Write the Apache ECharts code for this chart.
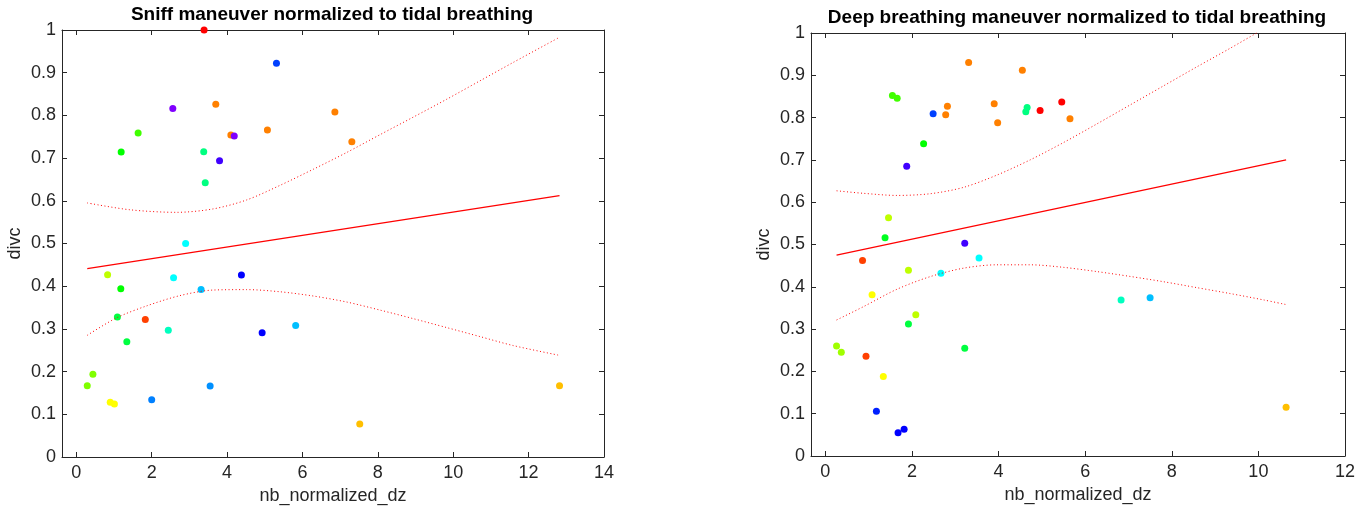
<!DOCTYPE html>
<html>
<head>
<meta charset="utf-8">
<script src="https://cdn.jsdelivr.net/npm/echarts@6/dist/echarts.min.js"></script>
<style>
  html, body { margin: 0; padding: 0; background: #ffffff; }
  #chart { width: 1366px; height: 510px; }
</style>
</head>
<body>
<div id="chart"></div>
<script>
// ---- Sniff maneuver (left panel) ----
const sniffX = [3.39, 5.31, 2.56, 3.70, 6.86, 1.64, 4.10, 4.19, 5.07, 7.31, 1.19, 3.38, 3.80, 3.42, 2.90,
                0.83, 1.18, 2.58, 3.31, 4.38, 1.09, 1.83, 2.44, 4.93, 5.82, 1.34, 0.44, 0.29, 3.55, 2.00,
                0.90, 1.01, 7.52, 12.82];
const sniffY = [1.000, 0.922, 0.816, 0.826, 0.808, 0.759, 0.754, 0.752, 0.766, 0.738, 0.714, 0.715, 0.694, 0.642, 0.500,
                0.427, 0.394, 0.420, 0.392, 0.426, 0.328, 0.322, 0.297, 0.291, 0.308, 0.270, 0.194, 0.167, 0.166, 0.134,
                0.128, 0.124, 0.077, 0.167];
const sniffColors = ['#ff0000', '#0040ff', '#8000ff', '#ff8000', '#ff8000', '#40ff00', '#ff8000', '#8000ff', '#ff8000', '#ff8000',
                     '#00ff00', '#00ff80', '#4000ff', '#00ff80', '#00ffff', '#bfff00', '#00ff00', '#00ffff', '#00bfff', '#0000ff',
                     '#00ff40', '#ff4000', '#00ffbf', '#0000ff', '#00bfff', '#00ff40', '#80ff00', '#80ff00', '#0090ff', '#0080ff',
                     '#ffff00', '#ffff00', '#ffbf00', '#ffbf00'];
const sniffFitX = [0.29, 12.82];
const sniffFitY = [0.441, 0.612];
const sniffUpperX = [0.29, 1.42, 2.66, 3.63, 4.52, 5.40, 6.29, 7.17, 8.06, 8.94, 9.83, 10.71, 11.59, 12.82];
const sniffUpperY = [0.595, 0.579, 0.573, 0.581, 0.602, 0.636, 0.674, 0.713, 0.755, 0.796, 0.838, 0.881, 0.924, 0.983];
const sniffLowerX = [0.29, 1.07, 1.87, 2.75, 3.63, 4.52, 5.40, 6.29, 7.17, 8.06, 8.94, 9.83, 10.71, 11.59, 12.82];
const sniffLowerY = [0.285, 0.326, 0.354, 0.378, 0.391, 0.392, 0.387, 0.377, 0.363, 0.344, 0.324, 0.303, 0.282, 0.261, 0.238];

// ---- Deep breathing maneuver (right panel) ----
const deepX = [3.31, 4.55, 1.55, 1.66, 2.49, 2.78, 2.82, 3.90, 3.98, 4.63, 4.66, 4.96, 2.27, 1.88, 1.46,
               1.38, 3.22, 5.46, 5.65, 0.86, 1.92, 2.67, 3.55, 1.08, 2.09, 1.92, 0.26, 0.37, 0.94, 3.22,
               1.34, 1.18, 1.68, 1.82, 6.83, 7.50, 10.64];
const deepY = [0.930, 0.912, 0.852, 0.846, 0.809, 0.807, 0.827, 0.833, 0.788, 0.814, 0.824, 0.817, 0.738, 0.685, 0.563,
               0.516, 0.503, 0.837, 0.797, 0.462, 0.439, 0.432, 0.468, 0.381, 0.334, 0.312, 0.260, 0.245, 0.236, 0.2545,
               0.188, 0.106, 0.055, 0.063, 0.369, 0.374, 0.115];
const deepColors = ['#ff8000', '#ff8000', '#40ff00', '#40ff00', '#0040ff', '#ff8000', '#ff8000', '#ff8000', '#ff8000', '#00ff80',
                    '#00ff80', '#ff0000', '#00ff00', '#4000ff', '#bfff00', '#00ff20', '#4000ff', '#ff0000', '#ff8000', '#ff4000',
                    '#bfff00', '#00ffff', '#00ffff', '#ffff00', '#bfff00', '#00ff40', '#a0ff00', '#a0ff00', '#ff4000', '#00ff40',
                    '#ffff00', '#0020ff', '#0000ff', '#0000ff', '#00ffbf', '#00bfff', '#ffbf00'];
const deepFitX = [0.26, 10.64];
const deepFitY = [0.475, 0.700];
const deepUpperX = [0.26, 0.88, 1.65, 2.42, 3.19, 3.96, 4.73, 5.50, 6.27, 7.04, 7.81, 8.58, 9.35, 9.96];
const deepUpperY = [0.627, 0.621, 0.616, 0.620, 0.635, 0.664, 0.700, 0.741, 0.785, 0.830, 0.875, 0.920, 0.964, 1.000];
const deepLowerX = [0.26, 0.88, 1.65, 2.42, 3.19, 3.96, 4.73, 5.50, 6.27, 7.04, 7.81, 8.58, 9.35, 10.12, 10.64];
const deepLowerY = [0.3215, 0.353, 0.394, 0.424, 0.444, 0.452, 0.452, 0.446, 0.436, 0.4245, 0.412, 0.398, 0.384, 0.369, 0.358];

// ---- Axis ticks and text ----
const sniffXTicks = [0, 2, 4, 6, 8, 10, 12, 14];
const deepXTicks = [0, 2, 4, 6, 8, 10, 12];
const yTicks = [0, 0.1, 0.2, 0.3, 0.4, 0.5, 0.6, 0.7, 0.8, 0.9, 1];
const titles = ['Sniff maneuver normalized to tidal breathing', 'Deep breathing maneuver normalized to tidal breathing'];
const xName = 'nb_normalized_dz';
const yName = 'divc';

const FONT = 'Liberation Sans, Arial, Helvetica, sans-serif';
const AXIS_COLOR = '#262626';
const LABEL_SIZE = 18;
const pairs = (xs, ys) => xs.map((x, i) => [x, ys[i]]);

const grids = [
  { left: 62, right: 762, top: 30, bottom: 52 },
  { left: 811, right: 21, top: 33, bottom: 54 }
];
const xRanges = [[-0.38, 14], [-0.33, 12]];
const xTickSets = [sniffXTicks, deepXTicks];

function xAxes(g) {
  const base = {
    gridIndex: g, type: 'value', min: xRanges[g][0], max: xRanges[g][1],
    axisLine: { show: true, onZero: false, lineStyle: { color: AXIS_COLOR, width: 1 } },
    axisTick: { show: true, inside: true, length: 5, customValues: xTickSets[g], lineStyle: { color: AXIS_COLOR } },
    splitLine: { show: false }
  };
  return [
    Object.assign({}, base, {
      position: 'bottom',
      axisLabel: { customValues: xTickSets[g], color: AXIS_COLOR, fontSize: LABEL_SIZE, fontFamily: FONT, margin: 7 },
      name: xName, nameLocation: 'middle', nameGap: 30,
      nameTextStyle: { color: AXIS_COLOR, fontSize: LABEL_SIZE, fontFamily: FONT }
    }),
    Object.assign({}, base, { position: 'top', axisLabel: { show: false } })
  ];
}
function yAxes(g) {
  const base = {
    gridIndex: g, type: 'value', min: 0, max: 1,
    axisLine: { show: true, onZero: false, lineStyle: { color: AXIS_COLOR, width: 1 } },
    axisTick: { show: true, inside: true, length: 5, customValues: yTicks, lineStyle: { color: AXIS_COLOR } },
    splitLine: { show: false }
  };
  return [
    Object.assign({}, base, {
      position: 'left',
      axisLabel: { customValues: yTicks, color: AXIS_COLOR, fontSize: LABEL_SIZE, fontFamily: FONT, margin: 6 },
      name: yName, nameLocation: 'middle', nameGap: 38,
      nameTextStyle: { color: AXIS_COLOR, fontSize: LABEL_SIZE, fontFamily: FONT }
    }),
    Object.assign({}, base, { position: 'right', axisLabel: { show: false } })
  ];
}

function panelSeries(g, xs, ys, colors, fitX, fitY, upX, upY, loX, loY) {
  const xi = g * 2, yi = g * 2;
  const band = (bx, by) => ({
    type: 'line', xAxisIndex: xi, yAxisIndex: yi, showSymbol: false, silent: true, z: 3, smooth: 0.3,
    data: pairs(bx, by), lineStyle: { color: '#ff0000', width: 1, type: [1, 2.5] }
  });
  return [
    {
      type: 'scatter', xAxisIndex: xi, yAxisIndex: yi, symbol: 'circle', symbolSize: 7,
      data: xs.map((x, i) => ({ value: [x, ys[i]], itemStyle: { color: colors[i], opacity: 1 } })),
      silent: true, z: 2
    },
    {
      type: 'line', xAxisIndex: xi, yAxisIndex: yi, showSymbol: false, silent: true, z: 3,
      data: pairs(fitX, fitY), lineStyle: { color: '#ff0000', width: 1.2 }
    },
    band(upX, upY),
    band(loX, loY)
  ];
}

const chart = echarts.init(document.getElementById('chart'), null, { renderer: 'canvas' });
chart.setOption({
  animation: false,
  backgroundColor: '#ffffff',
  title: [
    { text: titles[0], left: 332, top: 5, padding: 0, textAlign: 'center',
      textStyle: { fontSize: 19, fontWeight: 'bold', color: '#000000', fontFamily: FONT } },
    { text: titles[1], left: 1077, top: 8, padding: 0, textAlign: 'center',
      textStyle: { fontSize: 19, fontWeight: 'bold', color: '#000000', fontFamily: FONT } }
  ],
  grid: grids,
  xAxis: [].concat(xAxes(0), xAxes(1)),
  yAxis: [].concat(yAxes(0), yAxes(1)),
  series: [].concat(
    panelSeries(0, sniffX, sniffY, sniffColors, sniffFitX, sniffFitY, sniffUpperX, sniffUpperY, sniffLowerX, sniffLowerY),
    panelSeries(1, deepX, deepY, deepColors, deepFitX, deepFitY, deepUpperX, deepUpperY, deepLowerX, deepLowerY)
  )
});
</script>
</body>
</html>
